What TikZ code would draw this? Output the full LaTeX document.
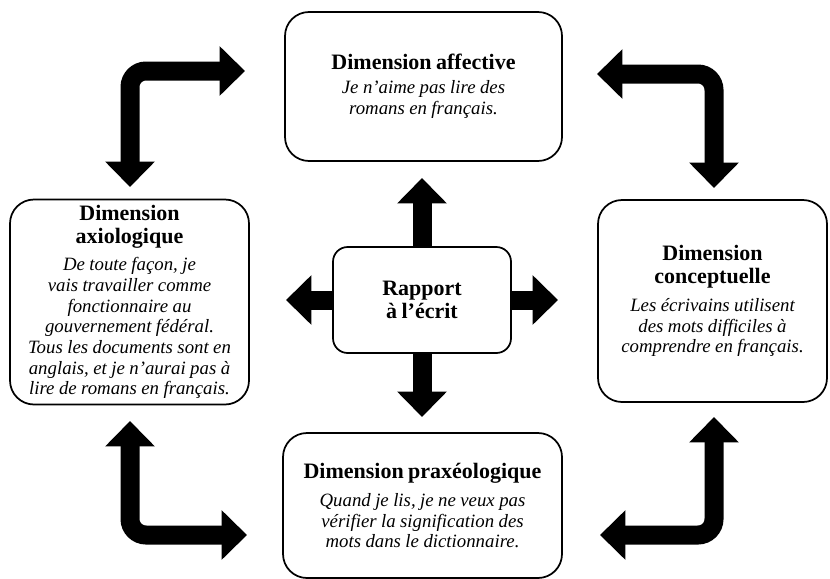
\documentclass[tikz,border=0pt]{standalone}
\usepackage{fontspec}
\setmainfont{Liberation Serif}
\usetikzlibrary{arrows.meta}

\newcommand{\dimtitle}[1]{{\fontsize{16.5}{17.5}\selectfont\bfseries #1\par}}
\newcommand{\dimtext}[1]{{\fontsize{14.1}{15.5}\selectfont\itshape #1\par}}

\tikzset{
	dimbox/.style={draw, line width=1.3pt, rounded corners=18pt, align=center, inner sep=3pt},
	bigarrow/.style={line width=14.25pt, {Triangle[width=36pt,length=19pt]}-{Triangle[width=36pt,length=19pt]}},
	onearrow/.style={line width=14.25pt, -{Triangle[width=36pt,length=19pt]}},
}

\begin{document}
\begin{tikzpicture}[x=0.75pt, y=-0.75pt]
	\useasboundingbox (0,0) rectangle (830,578);

	% the five boxes
	\node[dimbox, minimum width=207.75pt, minimum height=111.75pt, text width=195pt] (aff) at (423.5,86.5)
		{\dimtitle{Dimension affective}\vspace{2.5pt}\dimtext{Je n’aime pas lire des\\romans en français.}};
	\node[dimbox, minimum width=179.25pt, minimum height=153.75pt, text width=172pt] (axi) at (129.5,302)
		{\dimtitle{Dimension\\axiologique}\vspace{5pt}\dimtext{De toute façon, je\\vais travailler comme\\fonctionnaire au\\gouvernement fédéral.\\Tous les documents sont en\\anglais, et je n’aurai pas à\\lire de romans en français.}};
	\node[dimbox, minimum width=171.75pt, minimum height=151.5pt, text width=162pt] (con) at (712.5,301)
		{\dimtitle{Dimension\\conceptuelle}\vspace{5.5pt}\dimtext{Les écrivains utilisent\\des mots difficiles à\\comprendre en français.}};
	\node[dimbox, minimum width=209.25pt, minimum height=108.75pt, text width=198pt] (pra) at (422.5,505.5)
		{\dimtitle{Dimension praxéologique}\vspace{5.5pt}\dimtext{Quand je lis, je ne veux pas\\vérifier la signification des\\mots dans le dictionnaire.}};
	\node[dimbox, rounded corners=11pt, minimum width=133.5pt, minimum height=79.5pt, text width=120pt] (rap) at (422,300)
		{\dimtitle{Rapport\\à l’écrit}};

	% arrow tips
	\coordinate (tipN) at (422,178);
	\coordinate (tipS) at (422,417);
	\coordinate (tipW) at (286,300);
	\coordinate (tipE) at (558,300);
	\coordinate (axiN) at (130,187);
	\coordinate (affW) at (245,71);
	\coordinate (affE) at (597,74);
	\coordinate (conN) at (714,188);
	\coordinate (axiS) at (130,421);
	\coordinate (praW) at (247,535);
	\coordinate (praE) at (600,535);
	\coordinate (conS) at (714,417);

	% from the centre
	\draw[onearrow] (rap.north) -- (tipN);
	\draw[onearrow] (rap.south) -- (tipS);
	\draw[onearrow] (rap.west) -- (tipW);
	\draw[onearrow] (rap.east) -- (tipE);

	% round the corners
	\draw[bigarrow, rounded corners=12pt] (axiN) |- (affW);
	\draw[bigarrow, rounded corners=12pt] (affE) -| (conN);
	\draw[bigarrow, rounded corners=12pt] (axiS) |- (praW);
	\draw[bigarrow, rounded corners=12pt] (praE) -| (conS);
\end{tikzpicture}
\end{document}
